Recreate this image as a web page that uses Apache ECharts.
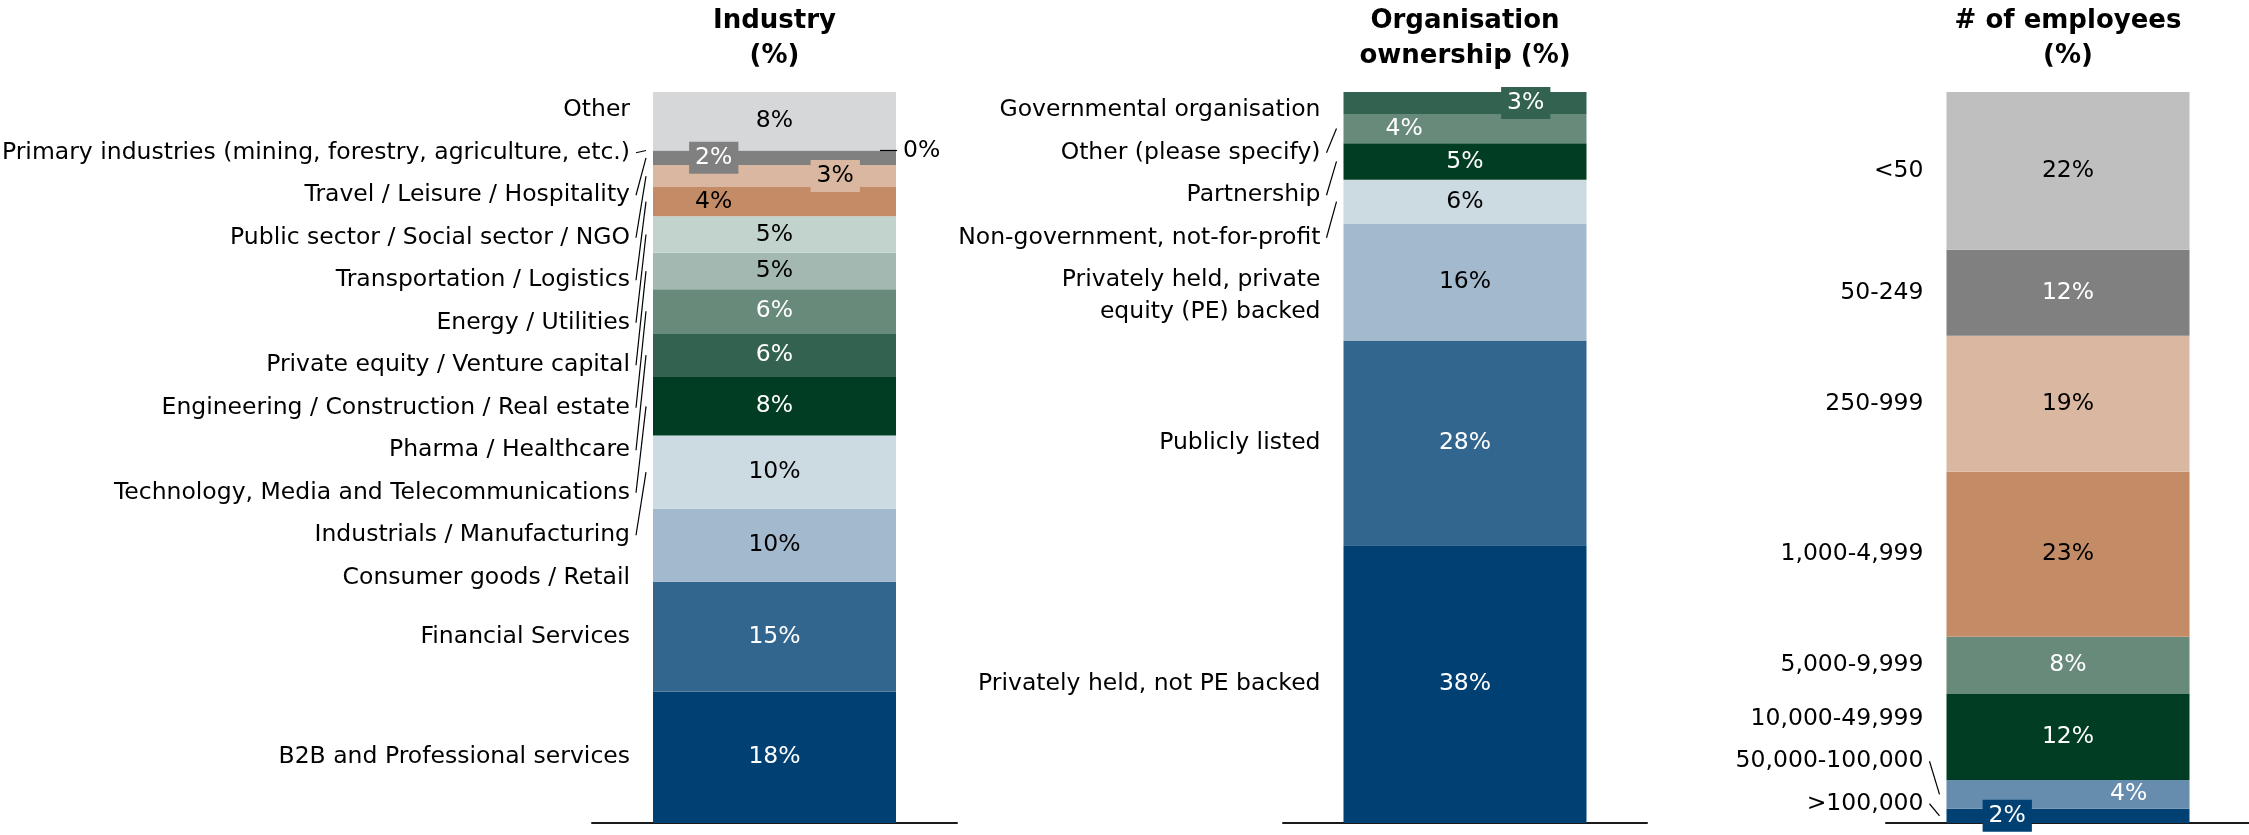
<!DOCTYPE html>
<html>
<head>
<meta charset="utf-8">
<title>Respondent profile</title>
<script src="https://cdn.jsdelivr.net/npm/echarts@6/dist/echarts.min.js"></script>
<style>
  html, body { margin: 0; padding: 0; background: #ffffff; }
  #chart { width: 2249px; height: 835px; }
</style>
</head>
<body>
<div id="chart"></div>
<script>
// ---- Data (every list runs from the bottom segment to the top one) ----
const industryCategories = [
  'B2B and Professional services',
  'Financial Services',
  'Consumer goods / Retail',
  'Industrials / Manufacturing',
  'Technology, Media and Telecommunications',
  'Pharma / Healthcare',
  'Engineering / Construction / Real estate',
  'Private equity / Venture capital',
  'Energy / Utilities',
  'Transportation / Logistics',
  'Public sector / Social sector / NGO',
  'Travel / Leisure / Hospitality',
  'Primary industries (mining, forestry, agriculture, etc.)',
  'Other'
];
const industryValues = [18, 15, 10, 10, 8, 6, 6, 5, 5, 4, 3, 2, 0, 8];

const ownershipCategories = [
  'Privately held, not PE backed',
  'Publicly listed',
  'Privately held, private\nequity (PE) backed',
  'Non-government, not-for-profit',
  'Partnership',
  'Other (please specify)',
  'Governmental organisation'
];
const ownershipValues = [38, 28, 16, 6, 5, 4, 3];

const employeeCategories = [
  '>100,000',
  '50,000-100,000',
  '10,000-49,999',
  '5,000-9,999',
  '1,000-4,999',
  '250-999',
  '50-249',
  '<50'
];
const employeeValues = [2, 4, 12, 8, 23, 19, 12, 22];

const columnTitles = ['Industry\n(%)', 'Organisation\nownership (%)', '# of employees\n(%)'];

// ---- Palette ----
const C = {
  navy: '#004073', blue: '#33668F', steel: '#668CAE', sky: '#A3B9CD', mist: '#CCDAE2',
  forest: '#003D23', pine: '#336350', sage: '#678A7B', moss: '#A3B8B1', mint: '#C2D3CD',
  copper: '#C38B66', sand: '#DAB7A1', grey: '#808080', silver: '#BFBFBF', cloud: '#D6D7D9'
};
const industryColors = [C.navy, C.blue, C.sky, C.mist, C.forest, C.pine, C.sage, C.moss,
  C.mint, C.copper, C.sand, C.grey, C.grey, C.cloud];
const ownershipColors = [C.navy, C.blue, C.sky, C.mist, C.forest, C.sage, C.pine];
const employeeColors = [C.navy, C.steel, C.forest, C.sage, C.copper, C.sand, C.grey, C.silver];
const DARK_FILLS = new Set([C.navy, C.blue, C.steel, C.forest, C.pine, C.sage, C.grey]);

// ---- Layout ----
const FONT = "'DejaVu Sans', Verdana, sans-serif";
const FONT_SIZE = 23.5;
const BAR_W = 243;
const PLOT_TOP = 92;
const PLOT_H = 731;
const GRIDS = [
  { left: 592, width: 365 },
  { left: 1283, width: 364 },
  { left: 1886, width: 364 }
];
const LABEL_GAP = 23;   // space between a category name and its bar
const ROW_H = 42.5;     // vertical slot taken by one line of category name
const LINE_H = 32;      // line height inside a multi-line name

const columns = [
  { names: industryCategories, values: industryValues, colors: industryColors },
  { names: ownershipCategories, values: ownershipValues, colors: ownershipColors },
  { names: employeeCategories, values: employeeValues, colors: employeeColors }
];
columns.forEach(c => { c.total = c.values.reduce((a, b) => a + b, 0); });

// Value label inside each segment; thin segments get their label pushed
// alternately to the left and right quarter of the bar.
function valueLabels(col) {
  let run = 0;
  return col.values.map((v, i) => {
    const fill = col.colors[i];
    const px = v / col.total * PLOT_H;
    const lab = {
      show: true, formatter: '{c}%', fontFamily: FONT, fontSize: FONT_SIZE,
      color: DARK_FILLS.has(fill) ? '#ffffff' : '#000000'
    };
    if (v === 0) {
      return Object.assign(lab, { position: 'right', distance: 7, color: '#000000' });
    }
    if (px >= 33) {
      run = 0;
      return Object.assign(lab, { position: 'inside' });
    }
    const side = run % 2 === 0 ? '25%' : '75%';
    run++;
    Object.assign(lab, { position: [side, '50%'], align: 'center', verticalAlign: 'middle' });
    if (px < 25) {
      Object.assign(lab, { backgroundColor: fill, padding: [4, 6] });
    }
    return lab;
  });
}

// Spread name labels vertically so they never overlap, keeping each cluster
// as close as possible to its segments and inside the given bounds.
function spread(items, minTop, maxBottom) {
  const clusters = items.map(it => ({ items: [it], top: 0, h: 0 }));
  function place(c) {
    let off = 0, s = 0;
    c.items.forEach(it => { s += it.ideal - (off + it.h / 2); off += it.h; });
    c.h = off;
    c.top = Math.max(minTop, Math.min(maxBottom - c.h, s / c.items.length));
  }
  clusters.forEach(place);
  let merged = true;
  while (merged) {
    merged = false;
    for (let j = 1; j < clusters.length; j++) {
      const a = clusters[j - 1], b = clusters[j];
      if (a.top + a.h > b.top + 0.01) {
        a.items = a.items.concat(b.items);
        clusters.splice(j, 1);
        place(a);
        merged = true;
        break;
      }
    }
  }
  clusters.forEach(c => {
    let off = c.top;
    c.items.forEach(it => { it.y = off + it.h / 2; off += it.h; });
  });
}

function layoutNames(col, api) {
  const cx = api.coord([0, 0])[0];
  const yBottom = api.coord([0, 0])[1];
  const yTop = api.coord([0, col.total])[1];
  let cum = 0;
  const items = col.values.map((v, i) => {
    const y0 = api.coord([0, cum])[1];
    cum += v;
    const y1 = api.coord([0, cum])[1];
    const lines = col.names[i].split('\n').length;
    return { segTop: y1, segBottom: y0, ideal: (y0 + y1) / 2, h: ROW_H + (lines - 1) * LINE_H };
  });
  spread(items.slice().reverse(), yTop - 3, yBottom + 2);
  items.forEach(it => { it.leader = it.y < it.segTop || it.y > it.segBottom; });
  const barLeft = cx - BAR_W / 2;
  return { items, barLeft, barRight: cx + BAR_W / 2, textRight: barLeft - LABEL_GAP };
}

function nameSeries(k) {
  const col = columns[k];
  return {
    type: 'custom',
    xAxisIndex: k,
    yAxisIndex: k,
    z: 5,
    silent: true,
    clip: false,
    data: col.names.map((n, i) => [0, i]),
    renderItem: function (params, api) {
      const i = api.value(1);
      const L = layoutNames(col, api);
      const it = L.items[i];
      const children = [{
        type: 'text',
        style: {
          text: col.names[i], x: L.textRight, y: it.y,
          align: 'right', verticalAlign: 'middle',
          fill: '#000000', fontFamily: FONT, fontSize: FONT_SIZE, lineHeight: LINE_H
        }
      }];
      if (it.leader) {
        children.push({
          type: 'line',
          shape: { x1: L.textRight + 6, y1: it.y, x2: L.barLeft - 7, y2: it.ideal },
          style: { stroke: '#000000', lineWidth: 1.2 }
        });
      }
      if (col.values[i] === 0) {
        children.push({
          type: 'line',
          shape: { x1: L.barRight - 16, y1: it.ideal, x2: L.barRight + 1, y2: it.ideal },
          style: { stroke: '#000000', lineWidth: 1.2 }
        });
      }
      return { type: 'group', children };
    }
  };
}

const grid = GRIDS.map(g => ({
  left: g.left, width: g.width, top: PLOT_TOP, height: PLOT_H,
  containLabel: false, outerBoundsMode: 'none'
}));

const xAxis = GRIDS.map((g, k) => ({
  type: 'category', gridIndex: k, data: [''],
  axisLine: { show: true, lineStyle: { color: '#1a1a1a', width: 2 } },
  axisTick: { show: false }, axisLabel: { show: false }, splitLine: { show: false }
}));

const yAxis = columns.map((c, k) => ({
  type: 'value', gridIndex: k, min: 0, max: c.total, show: false, splitLine: { show: false }
}));

const title = columnTitles.map((t, k) => ({
  text: t,
  left: GRIDS[k].left + GRIDS[k].width / 2,
  top: 4,
  padding: 0,
  textAlign: 'center',
  textStyle: { fontFamily: FONT, fontWeight: 'bold', fontSize: 26, lineHeight: 35, color: '#000000' }
}));

const series = [];
columns.forEach((col, k) => {
  const labels = valueLabels(col);
  col.values.forEach((v, i) => {
    series.push({
      type: 'bar',
      name: col.names[i],
      xAxisIndex: k,
      yAxisIndex: k,
      stack: 'column' + k,
      barWidth: BAR_W,
      data: [v],
      itemStyle: { color: col.colors[i] },
      label: labels[i],
      emphasis: { disabled: true },
      silent: true
    });
  });
  series.push(nameSeries(k));
});

const chart = echarts.init(document.getElementById('chart'), null, { renderer: 'canvas' });
chart.setOption({
  animation: false,
  backgroundColor: '#ffffff',
  title, grid, xAxis, yAxis, series
});
</script>
</body>
</html>
